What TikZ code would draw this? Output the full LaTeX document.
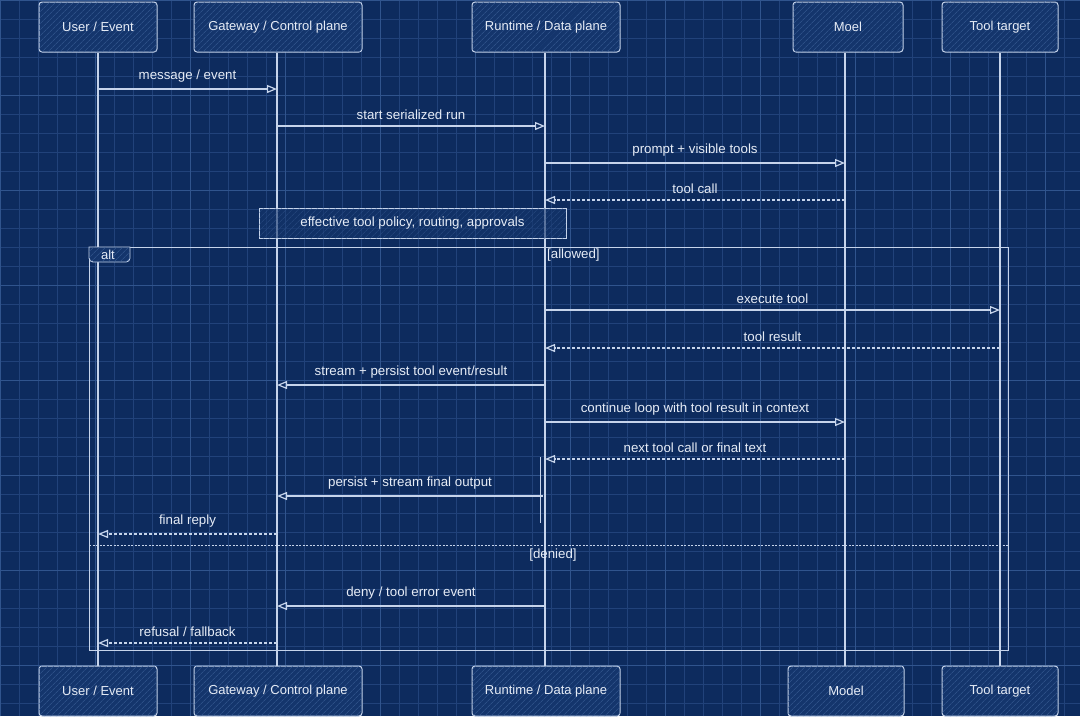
\documentclass[tikz,border=0pt]{standalone}
\usepackage{fontspec}
\setmainfont{Liberation Sans}
\usepackage{tikz}
\usetikzlibrary{arrows.meta, patterns.meta}
\definecolor{bpbg}{HTML}{0D2B5E}
\definecolor{bpminor}{HTML}{21427A}
\definecolor{bpmajor}{HTML}{30548D}
\definecolor{bpline}{HTML}{C6D4EB}
\definecolor{bptext}{HTML}{E6ECF6}
\definecolor{bpbox}{HTML}{14356C}
\definecolor{bphatch}{HTML}{3A5D95}

\begin{document}
\begin{tikzpicture}[x=1pt, y=-1pt,
    actor/.style={draw=bpline, line width=1pt, rounded corners=3pt, fill=bpbox,
        postaction={pattern={Lines[angle=45, distance=4pt, line width=0.5pt]}, pattern color=bphatch},
        minimum height=50pt, text=bptext, font=\fontsize{13}{15}\selectfont},
    life/.style={draw=bpline, line width=1.1pt},
    msg/.style={draw=bpline, line width=1.2pt, -{Triangle[open, length=10pt, width=8pt]}},
    reply/.style={msg, dash pattern=on 3pt off 2pt},
    lbl/.style={midway, above=5pt, inner sep=1pt, text=bptext, font=\fontsize{13.3}{15}\selectfont},
    frame/.style={draw=bpline, line width=0.9pt}]

    % Fond quadrillé
    \fill[bpbg] (0,0) rectangle (1080,716);
    \useasboundingbox (0,0) rectangle (1080,716);
    \draw[bpminor, line width=0.6pt, step=19pt] (0,0) grid (1080,716);
    \draw[bpmajor, line width=0.9pt, step=95pt] (0,0) grid (1080,716);

    % Participants (haut)
    \node[actor, minimum width=118pt] (usr) at (98,27) {User / Event};
    \node[actor, minimum width=168pt] (gw) at (278,27) {Gateway / Control plane};
    \node[actor, minimum width=148pt] (rt) at (546,27) {Runtime / Data plane};
    \node[actor, minimum width=110pt] (mdl) at (848,27) {Moel};
    \node[actor, minimum width=116pt] (tt) at (1000,27) {Tool target};

    % Participants (bas)
    \node[actor, minimum width=118pt] (usrB) at (98,691) {User / Event};
    \node[actor, minimum width=168pt] (gwB) at (278,691) {Gateway / Control plane};
    \node[actor, minimum width=148pt] (rtB) at (546,691) {Runtime / Data plane};
    \node[actor, minimum width=116pt] (mdlB) at (846,691) {Model};
    \node[actor, minimum width=116pt] (ttB) at (1000,691) {Tool target};

    % Lignes de vie
    \draw[life] (usr.south -| 98,0) -- (usrB.north -| 98,0);
    \draw[life] (gw.south -| 277,0) -- (gwB.north -| 277,0);
    \draw[life] (rt.south -| 545,0) -- (rtB.north -| 545,0);
    \draw[life] (mdl.south -| 845,0) -- (mdlB.north -| 845,0);
    \draw[life] (tt.south) -- (ttB.north);
    \draw[life, line width=0.8pt] (540,457) -- (540,523);

    % Messages avant la politique
    \draw[msg] (98,89) -- node[lbl] {message / event} (277,89);
    \draw[msg] (277,126) -- node[lbl] {start serialized run} (545,126);
    \draw[msg] (545,163) -- node[lbl] {prompt + visible tools} (845,163);
    \draw[reply] (845,200) -- node[lbl] {tool call} (545,200);

    % Note
    \node[draw=bpline, line width=0.9pt, fill=bpbox, fill opacity=0.6, text opacity=1,
        postaction={pattern={Lines[angle=45, distance=4pt, line width=0.5pt]}, pattern color=bphatch},
        minimum width=307pt, minimum height=30pt, text=bptext,
        font=\fontsize{13.3}{15}\selectfont] (note) at (412.5,223.5) {effective tool policy, routing, approvals};

    % Cadre alt
    \draw[frame] (89,247) rectangle (1008,650);
    \draw[frame, fill=bpbox, postaction={pattern={Lines[angle=45, distance=4pt, line width=0.5pt]}, pattern color=bphatch}]
        (89,247) -- (130,247) -- (130,255) [rounded corners=4pt] -- (130,262) -- (89,262) [sharp corners] -- cycle;
    \node[text=bptext, font=\fontsize{13}{15}\selectfont] (alt) at (108,255) {alt};
    \node[anchor=west, inner sep=1pt, text=bptext, font=\fontsize{13.3}{15}\selectfont] (allowed) at (546,255) {[allowed]};
    \draw[frame, dash pattern=on 2pt off 1.5pt] (89,545) -- (1008,545);
    \node[text=bptext, font=\fontsize{13.3}{15}\selectfont] (denied) at (553,555) {[denied]};

    % Cas autorisé
    \draw[msg] (545,310) -- node[lbl] {execute tool} (1000,310);
    \draw[reply] (1000,348) -- node[lbl] {tool result} (545,348);
    \draw[msg] (545,385) -- node[lbl] {stream + persist tool event/result} (277,385);
    \draw[msg] (545,422) -- node[lbl] {continue loop with tool result in context} (845,422);
    \draw[reply] (845,459) -- node[lbl] {next tool call or final text} (545,459);
    \draw[msg] (543,496) -- node[lbl] {persist + stream final output} (277,496);
    \draw[reply] (277,534) -- node[lbl] {final reply} (98,534);

    % Cas refusé
    \draw[msg] (545,606) -- node[lbl] {deny / tool error event} (277,606);
    \draw[reply] (277,643) -- node[lbl] {refusal / fallback} (98,643);
\end{tikzpicture}
\end{document}
